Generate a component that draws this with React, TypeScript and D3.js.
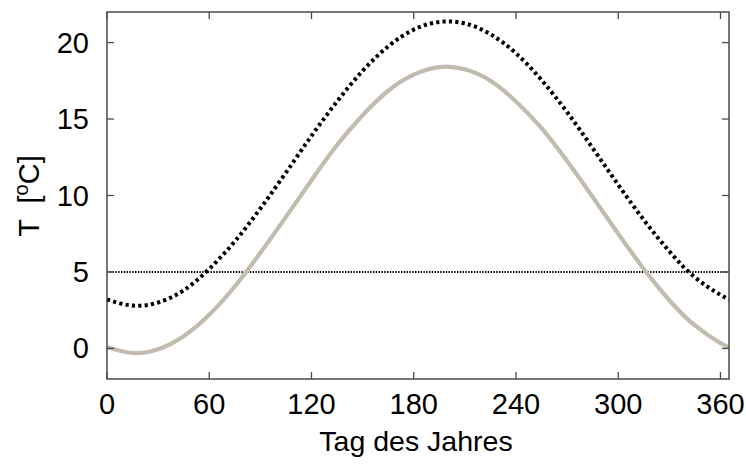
import { useEffect, useRef } from 'react';
import * as d3 from 'd3';

const days = [0, 15, 30, 45, 60, 75, 90, 105, 120, 135, 150, 165, 180, 195, 210, 225, 240, 255, 270, 285, 300, 315, 330, 345, 360, 365];
const tempGray = [0.1, -0.3, -0.05, 0.8, 2.2, 4.05, 6.25, 8.6, 11.0, 13.3, 15.25, 16.85, 17.9, 18.4, 18.25, 17.5, 16.15, 14.4, 12.25, 9.9, 7.5, 5.2, 3.15, 1.5, 0.35, 0.1];
const tempDotted = [3.2, 2.8, 3.0, 3.8, 5.2, 7.0, 9.15, 11.5, 13.9, 16.15, 18.15, 19.75, 20.85, 21.35, 21.25, 20.55, 19.3, 17.55, 15.45, 13.1, 10.7, 8.4, 6.35, 4.65, 3.5, 3.2];
const threshold = 5;
const xTicks = [0, 60, 120, 180, 240, 300, 360];
const yTicks = [0, 5, 10, 15, 20];

export default function App() {
  const ref = useRef<SVGSVGElement>(null);

  useEffect(() => {
    if (!ref.current) return;
    const W = 746, H = 464;
    const margin = { top: 12, right: 17, bottom: 85, left: 107 };
    const w = W - margin.left - margin.right;
    const h = H - margin.top - margin.bottom;

    const root = d3.select(ref.current);
    root.selectAll('*').remove();
    const svg = root.append('g').attr('transform', `translate(${margin.left},${margin.top})`);

    const x = d3.scaleLinear().domain([0, 365]).range([0, w]);
    const y = d3.scaleLinear().domain([-2, 22]).range([h, 0]);

    const axisColor = '#4a4a4a';
    const font = 'Liberation Sans, Arial, sans-serif';

    const line = d3.line<number>()
      .x((_, i) => x(days[i]))
      .y(d => y(d))
      .curve(d3.curveNatural);

    // threshold line
    svg.append('line')
      .attr('x1', 0).attr('x2', w)
      .attr('y1', y(threshold)).attr('y2', y(threshold))
      .attr('stroke', '#000')
      .attr('stroke-width', 2)
      .attr('stroke-dasharray', '1.4,1.4');

    svg.append('path')
      .datum(tempGray)
      .attr('fill', 'none')
      .attr('stroke', '#c2bbaf')
      .attr('stroke-width', 4.2)
      .attr('d', line);

    svg.append('path')
      .datum(tempDotted)
      .attr('fill', 'none')
      .attr('stroke', '#000')
      .attr('stroke-width', 4)
      .attr('stroke-dasharray', '3.2,3.2')
      .attr('d', line);

    // ticks (inside, mirrored)
    const tl = 7;
    const ticks = svg.append('g').attr('stroke', axisColor).attr('stroke-width', 1.3);
    xTicks.forEach(t => {
      ticks.append('line').attr('x1', x(t)).attr('x2', x(t)).attr('y1', h).attr('y2', h - tl);
      ticks.append('line').attr('x1', x(t)).attr('x2', x(t)).attr('y1', 0).attr('y2', tl);
    });
    yTicks.forEach(t => {
      ticks.append('line').attr('x1', 0).attr('x2', tl).attr('y1', y(t)).attr('y2', y(t));
      ticks.append('line').attr('x1', w).attr('x2', w - tl).attr('y1', y(t)).attr('y2', y(t));
    });

    // frame
    svg.append('rect')
      .attr('width', w).attr('height', h)
      .attr('fill', 'none')
      .attr('stroke', axisColor)
      .attr('stroke-width', 1.5);

    svg.selectAll('.xl').data(xTicks).enter().append('text')
      .attr('x', d => x(d)).attr('y', h + 35)
      .attr('text-anchor', 'middle')
      .style('font-family', font).style('font-size', '29px')
      .text(d => d);

    svg.selectAll('.yl').data(yTicks).enter().append('text')
      .attr('x', -18).attr('y', d => y(d) + 10)
      .attr('text-anchor', 'end')
      .style('font-family', font).style('font-size', '29px')
      .text(d => d);

    svg.append('text')
      .attr('x', w / 2 - 2).attr('y', h + 72)
      .attr('text-anchor', 'middle')
      .style('font-family', font).style('font-size', '28.5px')
      .text('Tag des Jahres');

    const yt = svg.append('text')
      .attr('transform', `translate(${-68},${196 - margin.top}) rotate(-90)`)
      .attr('text-anchor', 'middle')
      .style('font-family', font).style('font-size', '29px')
      .style('white-space', 'pre');
    yt.append('tspan').text('T  [');
    yt.append('tspan').attr('dy', -11).style('font-size', '20px').text('o');
    yt.append('tspan').attr('dy', 11).text('C]');
  }, []);

  return <svg ref={ref} width={746} height={464} style={{ position: 'absolute', left: 0, top: 0 }} />;
}
